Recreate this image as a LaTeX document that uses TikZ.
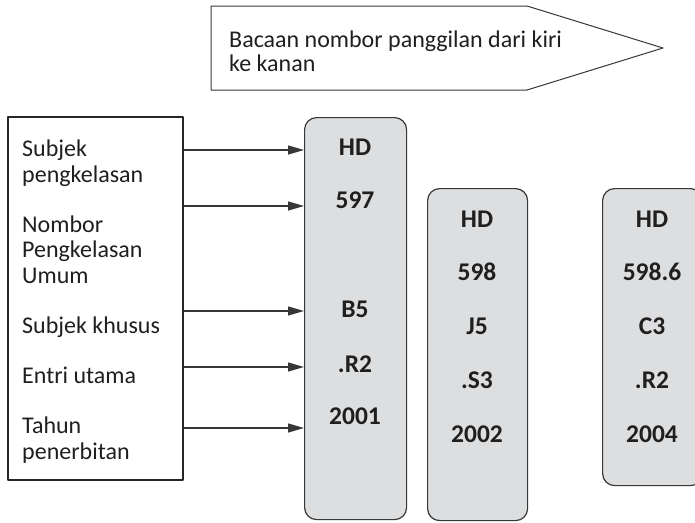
\documentclass[tikz,border=0pt]{standalone}
\usepackage{fontspec}
\setmainfont{Carlito}
\usetikzlibrary{arrows.meta,positioning}
\definecolor{boxgray}{RGB}{221,222,224}
\definecolor{linegray}{RGB}{55,55,55}

\begin{document}
\begin{tikzpicture}[x=1pt, y=-1pt, line join=round,
  lbl/.style={font=\fontsize{24}{25.5}\selectfont, inner sep=0pt, align=left, anchor=base west, text=black!88},
  colbox/.style={draw=linegray, fill=boxgray, rounded corners=12pt, line width=1.2pt, inner sep=0pt, anchor=north west},
  entry/.style={font=\fontsize{25.5}{25}\selectfont\bfseries, inner sep=0pt, anchor=base, text=black!88},
  >={Triangle[length=16pt, width=9pt]}]
\useasboundingbox (0,0) rectangle (695,522);
\clip (0,0) rectangle (695,522);
% banner
\draw[line width=1pt, linegray] (211,6) -- (527,6) -- (663,48) -- (527,90) -- (211,90) -- cycle;
\node[lbl, font=\fontsize{24}{24}\selectfont] (banner) at (229,71) {Bacaan nombor panggilan dari kiri\\ke kanan};
% left box and its labels (placed on their last baseline)
\node[draw=black!85, line width=1.6pt, minimum width=175pt, minimum height=363pt, inner sep=0pt, anchor=north west] (lbox) at (7,116) {};
\node[lbl] (l1) at (22,182) {Subjek\\pengkelasan};
\node[lbl] (l2) at (22,283) {Nombor\\Pengkelasan\\Umum};
\node[lbl] (l3) at (22,333) {Subjek khusus};
\node[lbl] (l4) at (22,383) {Entri utama};
\node[lbl] (l5) at (22,459) {Tahun\\penerbitan};
% call number columns
\node[colbox, minimum width=102pt, minimum height=402pt] (col1) at (304,117) {};
\node[colbox, minimum width=100pt, minimum height=332pt] (col2) at (427,188) {};
\node[colbox, minimum width=100pt, minimum height=297pt] (col3) at (602,188) {};
\node[entry] (a1) at (355,155) {HD};
\node[entry] (a2) at (355,208) {597};
\node[entry] (a3) at (355,317) {B5};
\node[entry] (a4) at (355,372) {.R2};
\node[entry] (a5) at (355,424) {2001};
\node[entry] (b1) at (477,227) {HD};
\node[entry] (b2) at (477,280) {598};
\node[entry] (b3) at (477,334) {J5};
\node[entry] (b4) at (477,388) {.S3};
\node[entry] (b5) at (477,442) {2002};
\node[entry] (c1) at (652,227) {HD};
\node[entry] (c2) at (652,280) {598.6};
\node[entry] (c3) at (652,334) {C3};
\node[entry] (c4) at (652,388) {.R2};
\node[entry] (c5) at (652,442) {2004};
% arrows from the labels to the first column
\foreach \n/\d in {1/5, 2/2, 3/6, 4/5, 5/-4}
  \draw[->, line width=1.3pt, linegray] ([yshift=\d pt]a\n.base -| lbox.east) -- ([yshift=\d pt]a\n.base -| col1.west);
\end{tikzpicture}
\end{document}
